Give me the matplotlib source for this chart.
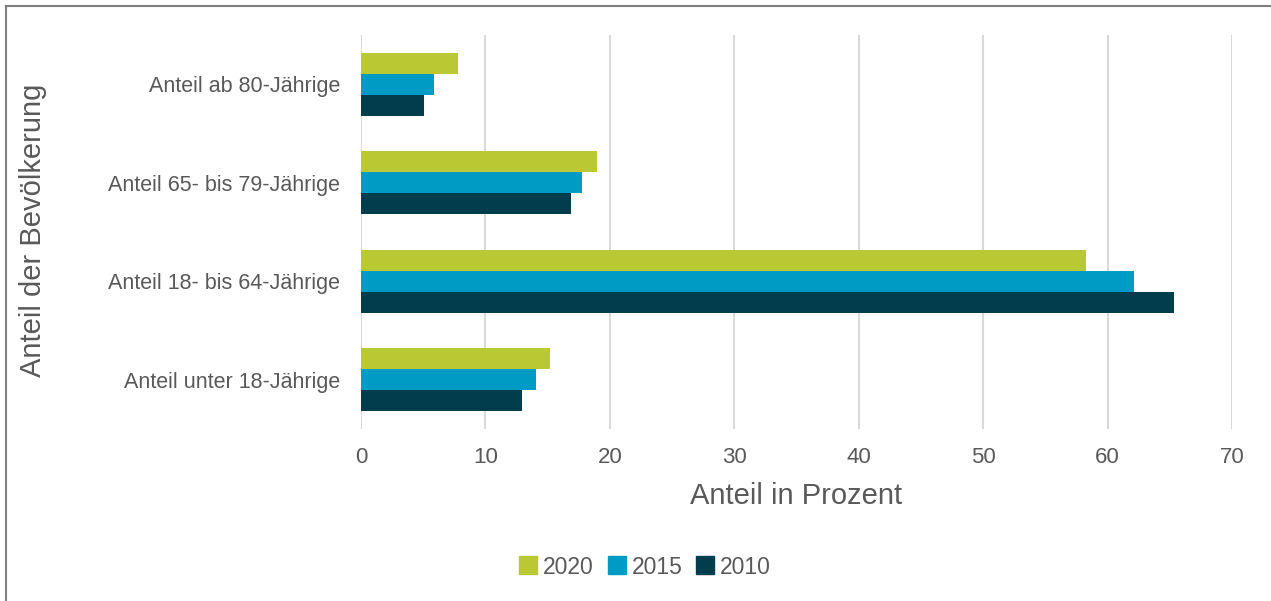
import numpy as np
import matplotlib.pyplot as plt
from matplotlib.lines import Line2D

plt.rcParams['font.family'] = ['Liberation Sans', 'DejaVu Sans']

categories = ['Anteil unter 18-Jährige', 'Anteil 18- bis 64-Jährige',
              'Anteil 65- bis 79-Jährige', 'Anteil ab 80-Jährige']
years = ['2020', '2015', '2010']
v2020 = [15.2, 58.3, 19.0, 7.8]
v2015 = [14.1, 62.1, 17.8, 5.9]
v2010 = [12.9, 65.3, 16.9, 5.1]
xticks = [0, 10, 20, 30, 40, 50, 60, 70]

colors = ['#B9C934', '#009BC4', '#003E4D']
grey = '#595959'

fig = plt.figure(figsize=(12.71, 6.01), dpi=100)
ax = fig.add_axes([361/1271, (601-429)/601, (1232-361)/1271, (429-35)/601])

y = np.arange(len(categories))
h = 0.213
ax.barh(y + h, v2020, height=h, color=colors[0], label=years[0], zorder=3)
ax.barh(y, v2015, height=h, color=colors[1], label=years[1], zorder=3)
ax.barh(y - h, v2010, height=h, color=colors[2], label=years[2], zorder=3)

ax.set_xlim(0, 70)
ax.set_ylim(-0.5, 3.5)
ax.set_xticks(xticks)
ax.set_yticks(y)
ax.set_yticklabels(categories)
ax.tick_params(length=0, colors=grey)
ax.tick_params(axis='x', pad=13, labelsize=16)
ax.tick_params(axis='y', pad=15, labelsize=15.5)
ax.grid(axis='x', color='#D9D9D9', linewidth=1.5, zorder=0)
for s in ax.spines.values():
    s.set_visible(False)

ax.set_xlabel('Anteil in Prozent', fontsize=21, color=grey, labelpad=10)
fig.text(33/1271, 1 - 230/601, 'Anteil der Bevölkerung', rotation=90,
         fontsize=21, color=grey, ha='center', va='center')

handles = [Line2D([], [], marker='s', linestyle='none', markersize=13,
                  color=c) for c in colors]
fig.legend(handles, years, loc='center', bbox_to_anchor=(644/1271, 34/601),
           ncol=3, frameon=False, fontsize=16.5, labelcolor=grey,
           handletextpad=0.15, columnspacing=0.5, handlelength=1.0)

# outer border (top and left visible)
fig.add_artist(Line2D([6/1271, 6/1271], [0, 1 - 6/601], transform=fig.transFigure,
                      color='#7F7F7F', linewidth=1.5))
fig.add_artist(Line2D([6/1271, 1], [1 - 6/601, 1 - 6/601], transform=fig.transFigure,
                      color='#7F7F7F', linewidth=1.5))

fig.savefig('out.png', dpi=100)
